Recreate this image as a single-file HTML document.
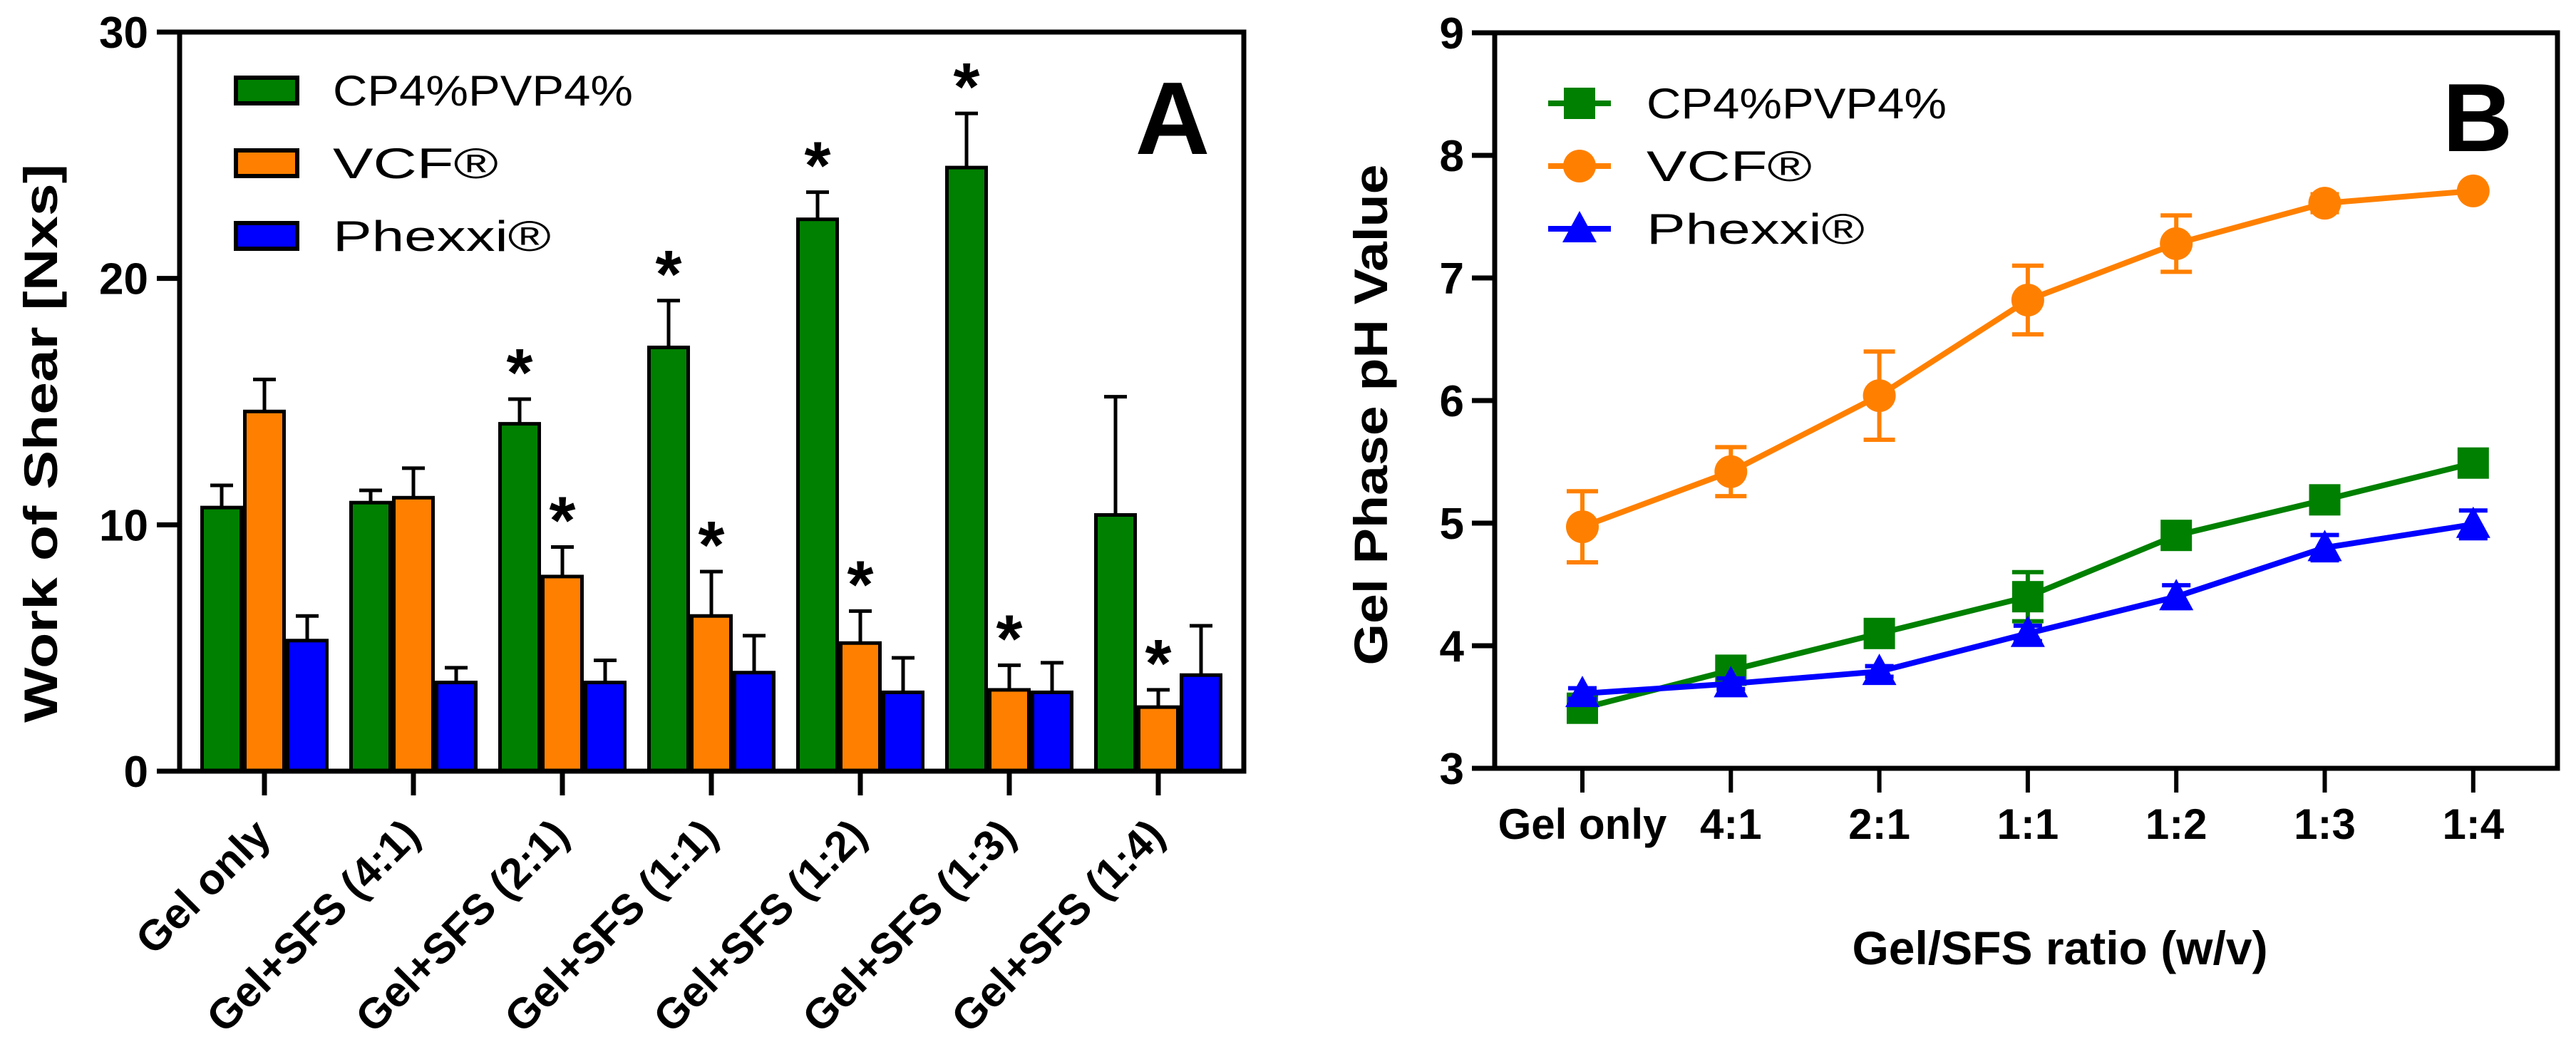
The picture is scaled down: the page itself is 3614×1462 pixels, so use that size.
<!DOCTYPE html>
<html><head><meta charset="utf-8"><style>
html,body{margin:0;padding:0;background:#fff;}
svg{display:block;}
text{font-family:"Liberation Sans",Arial,sans-serif;}
</style></head><body>
<svg id="chart" width="3614" height="1462" viewBox="0 0 3614 1462" xmlns="http://www.w3.org/2000/svg">
<g id="panelA"></g>
<g id="panelB"></g>
</svg>
<script>
// ---- Panel A data ----
const catsA = ["Gel only","Gel+SFS (4:1)","Gel+SFS (2:1)","Gel+SFS (1:1)","Gel+SFS (1:2)","Gel+SFS (1:3)","Gel+SFS (1:4)"];
const greenA = [10.7,10.9,14.1,17.2,22.4,24.5,10.4];
const greenErrA = [0.9,0.5,1.0,1.9,1.1,2.2,4.8];
const orangeA = [14.6,11.1,7.9,6.3,5.2,3.3,2.6];
const orangeErrA = [1.3,1.2,1.2,1.8,1.3,1.0,0.7];
const blueA = [5.3,3.6,3.6,4.0,3.2,3.2,3.9];
const blueErrA = [1.0,0.6,0.9,1.5,1.4,1.2,2.0];
const greenStarA = [false,false,true,true,true,true,false];
const orangeStarA = [false,false,true,true,true,true,true];
const ticksA = [0,10,20,30];
// ---- Panel B data ----
const catsB = ["Gel only","4:1","2:1","1:1","1:2","1:3","1:4"];
const greenB = [3.49,3.80,4.10,4.40,4.90,5.19,5.49];
const greenErrB = [0.03,0.03,0.03,0.20,0.04,0.04,0.03];
const orangeB = [4.97,5.42,6.04,6.82,7.28,7.61,7.71];
const orangeErrB = [0.29,0.20,0.36,0.28,0.23,0.05,0.0];
const blueB = [3.61,3.69,3.79,4.10,4.40,4.80,4.99];
const blueErrB = [0.02,0.02,0.02,0.04,0.07,0.08,0.09];
const ticksB = [3,4,5,6,7,8,9];

const NS = "http://www.w3.org/2000/svg";
const GREEN="#008000", ORANGE="#ff8000", BLUE="#0000ff";
function mk(parent, tag, attrs, txt){
  const e=document.createElementNS(NS,tag);
  for(const k in attrs) e.setAttribute(k,attrs[k]);
  if(txt!==undefined) e.textContent=txt;
  parent.appendChild(e); return e;
}
// ===== Panel A =====
const A=document.getElementById('panelA');
const aL=252,aR=1745,aT=45,aB=1082;
const yA=v=>aB-(v/30)*(aB-aT);
const xA=i=>371+i*209;
let el;
const seriesA=[[greenA,greenErrA,GREEN,-60,'green'],[orangeA,orangeErrA,ORANGE,0,'orange'],[blueA,blueErrA,BLUE,60,'blue']];
seriesA.forEach(s=>{
  s[0].forEach((v,i)=>{
    const cx=xA(i)+s[3];
    const top=yA(v), etop=yA(v+s[1][i]);
    el=mk(A,'line',{x1:cx,x2:cx,y1:top,y2:etop,stroke:'#000','stroke-width':5});
    
    
    el=mk(A,'line',{x1:cx-16,x2:cx+16,y1:etop,y2:etop,stroke:'#000','stroke-width':5});
    
    
    el=mk(A,'rect',{x:cx-27.5,y:top,width:55,height:aB-top,fill:s[2],stroke:'#000','stroke-width':5});
    
    
  });
});
[[greenA,greenErrA,greenStarA,-60],[orangeA,orangeErrA,orangeStarA,0]].forEach(s=>{
  s[0].forEach((v,i)=>{
    if(!s[2][i]) return;
    el=mk(A,'text',{x:xA(i)+s[3],y:yA(v+s[1][i])-5,'font-size':95,'font-weight':'bold','text-anchor':'middle',fill:'#000'},'*');
    
    
  });
});
el=mk(A,'rect',{x:aL,y:aT,width:aR-aL,height:aB-aT,fill:'none',stroke:'#000','stroke-width':7});


ticksA.forEach(t=>{
  el=mk(A,'line',{x1:aL-32,x2:aL,y1:yA(t),y2:yA(t),stroke:'#000','stroke-width':7});
  
  
  el=mk(A,'text',{x:208,y:yA(t)+22,'font-size':62,'font-weight':'bold','text-anchor':'end'},String(t));
  
  
});
catsA.forEach((c,i)=>{
  el=mk(A,'line',{x1:xA(i),x2:xA(i),y1:aB,y2:aB+34,stroke:'#000','stroke-width':7});
  
  
  const tx=xA(i)+12, ty=1175;
  el=mk(A,'text',{x:tx,y:ty,'font-size':60,'font-weight':'bold','text-anchor':'end',transform:`rotate(-45 ${tx} ${ty})`},c);
  
  
});
el=mk(A,'text',{x:0,y:0,'font-size':66,'font-weight':'bold','text-anchor':'middle',textLength:784,lengthAdjust:'spacingAndGlyphs',transform:'translate(80 622) rotate(-90)'},'Work of Shear  [Nxs]');


el=mk(A,'text',{x:1645,y:216,'font-size':145,'font-weight':'bold','text-anchor':'middle'},'A');


const legNames=["CP4%PVP4%","VCF®","Phexxi®"];
const legLen=[421,232,306];
[GREEN,ORANGE,BLUE].forEach((c,i)=>{
  const cy=127+i*102;
  el=mk(A,'rect',{x:331,y:cy-18,width:86,height:36,fill:c,stroke:'#000','stroke-width':6});
  
  
  el=mk(A,'text',{x:467,y:cy+21,'font-size':60,textLength:legLen[i],lengthAdjust:'spacingAndGlyphs'},legNames[i]);
  
  
});
// ===== Panel B =====
const B=document.getElementById('panelB');
const bL=2097,bR=3588,bT=46,bB=1078;
const yB=v=>bB-(v-3)/6*(bB-bT);
const xB=i=>2220+i*208.3;
el=mk(B,'rect',{x:bL,y:bT,width:bR-bL,height:bB-bT,fill:'none',stroke:'#000','stroke-width':7});


ticksB.forEach(t=>{
  el=mk(B,'line',{x1:bL-32,x2:bL,y1:yB(t),y2:yB(t),stroke:'#000','stroke-width':7});
  
  
  el=mk(B,'text',{x:2054,y:yB(t)+22,'font-size':62,'font-weight':'bold','text-anchor':'end'},String(t));
  
  
});
catsB.forEach((c,i)=>{
  el=mk(B,'line',{x1:xB(i),x2:xB(i),y1:bB,y2:bB+34,stroke:'#000','stroke-width':6});
  
  
  el=mk(B,'text',{x:xB(i),y:1177,'font-size':60,'font-weight':'bold','text-anchor':'middle'},c);
  
  
});
function marker(g,shape,x,y,c){
  let m;
  if(shape==='square') m=mk(g,'rect',{x:x-22,y:y-22,width:44,height:44,fill:c});
  else if(shape==='circle') m=mk(g,'circle',{cx:x,cy:y,r:23,fill:c});
  else m=mk(g,'polygon',{points:`${x},${y-25} ${x+24},${y+19} ${x-24},${y+19}`,fill:c});
  return m;
}
const seriesB=[[greenB,greenErrB,GREEN,'square','green'],[orangeB,orangeErrB,ORANGE,'circle','orange'],[blueB,blueErrB,BLUE,'triangle','blue']];
seriesB.forEach(s=>{
  const pts=s[0].map((v,i)=>xB(i)+','+yB(v)).join(' ');
  el=mk(B,'polyline',{points:pts,fill:'none',stroke:s[2],'stroke-width':8,'stroke-linejoin':'round'});
  
  
  s[0].forEach((v,i)=>{
    const e=s[1][i];
    const x=xB(i);
    if(e>0.1){
      el=mk(B,'path',{d:`M${x},${yB(v+e)}V${yB(v-e)}M${x-22},${yB(v+e)}H${x+22}M${x-22},${yB(v-e)}H${x+22}`,stroke:s[2],'stroke-width':6,fill:'none'});
      
      
    } else if(e>0.01){
      el=mk(B,'path',{d:`M${x-20},${yB(v+e)-4}H${x+20}M${x-20},${yB(v-e)+4}H${x+20}`,stroke:s[2],'stroke-width':6,fill:'none'});
      
      
    }
    el=marker(B,s[3],x,yB(v),s[2]);
    
    
  });
});
el=mk(B,'text',{x:0,y:0,'font-size':66,'font-weight':'bold','text-anchor':'middle',textLength:703,lengthAdjust:'spacingAndGlyphs',transform:'translate(1946 582) rotate(-90)'},'Gel Phase pH Value');


el=mk(B,'text',{x:2890,y:1353,'font-size':66,'font-weight':'bold','text-anchor':'middle'},'Gel/SFS ratio (w/v)');


el=mk(B,'text',{x:3476,y:212,'font-size':136,'font-weight':'bold','text-anchor':'middle'},'B');


['square','circle','triangle'].forEach((sh,i)=>{
  const cy=145+i*88, c=[GREEN,ORANGE,BLUE][i];
  el=mk(B,'line',{x1:2172,x2:2260,y1:cy,y2:cy,stroke:c,'stroke-width':8});
  
  
  el=marker(B,sh,2216,cy,c);
  
  
  el=mk(B,'text',{x:2310,y:cy+21,'font-size':60,textLength:legLen[i],lengthAdjust:'spacingAndGlyphs'},legNames[i]);
  
  
});
</script>
</body></html>
